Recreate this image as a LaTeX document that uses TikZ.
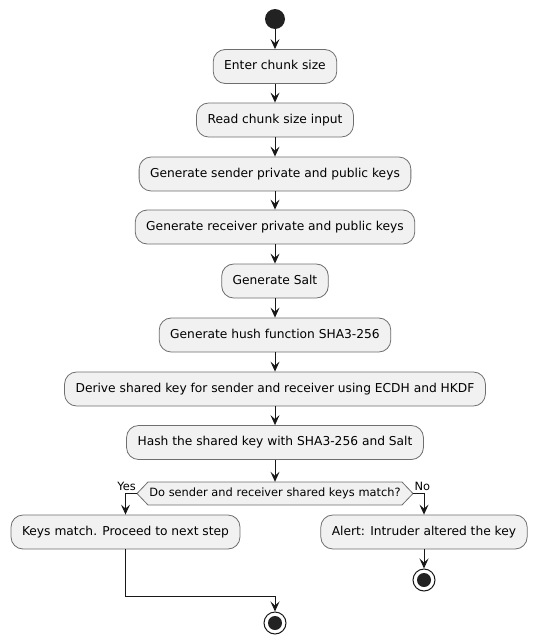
\documentclass[tikz,border=0pt]{standalone}
\usepackage{fontspec}
\setmainfont{DejaVu Sans}
\usetikzlibrary{arrows.meta}
\definecolor{ln}{HTML}{181818}
\definecolor{bd}{HTML}{6E6E6E}
\definecolor{bx}{HTML}{F1F1F1}
\definecolor{dk}{HTML}{222222}
\begin{document}
\begin{tikzpicture}[x=1pt,y=-1pt,
 act/.style={draw=bd,line width=0.8pt,fill=bx,rounded corners=12pt,minimum height=34pt,inner xsep=11pt,text height=9pt,text depth=2.5pt,font=\fontsize{12.25}{14}\selectfont},
 arr/.style={draw=ln,line width=1pt,-{Stealth[length=10pt,width=9pt,inset=4pt]}},
 lbl/.style={font=\fontsize{11.4}{13}\selectfont,inner sep=0pt},
 stopc/.style={circle,draw=ln,line width=1pt,fill=white,minimum size=22pt,inner sep=0pt}]
\useasboundingbox (0,0) rectangle (536,643);
\node[circle,fill=dk,minimum size=20pt,inner sep=0pt] (start) at (275,19) {};
\node[act] (b1) at (275,66.5) {Enter chunk size};
\node[act] (b2) at (275,120) {Read chunk size input};
\node[act] (b3) at (275,174) {Generate sender private and public keys};
\node[act] (b4) at (275,227) {Generate receiver private and public keys};
\node[act] (b5) at (275,281) {Generate Salt};
\node[act] (b6) at (275,335) {Generate hush function SHA3-256};
\node[act] (b7) at (275,389) {Derive shared key for sender and receiver using ECDH and HKDF};
\node[act] (b8) at (275,442.5) {Hash the shared key with SHA3-256 and Salt};
\draw[bd,line width=0.8pt,fill=bx] (137,493.5) -- (148,482) -- (402,482) -- (413,493.5) -- (402,505) -- (148,505) -- cycle;
\node[lbl,minimum height=23pt,text height=8pt,text depth=2.5pt] (dec) at (275,493.5) {Do sender and receiver shared keys match?};
\coordinate (decL) at (137,493.5);
\coordinate (decR) at (413,493.5);
\node[act] (yes) at (125.5,532) {Keys match. Proceed to next step};
\node[act] (no) at (424,532) {Alert: Intruder altered the key};
\node[stopc] (end2) at (424,580) {};
\fill[dk] (end2.center) circle (7);
\node[stopc] (end1) at (275,623) {};
\fill[dk] (end1.center) circle (7);
\draw[arr] (start) -- (b1);
\draw[arr] (b1) -- (b2);
\draw[arr] (b2) -- (b3);
\draw[arr] (b3) -- (b4);
\draw[arr] (b4) -- (b5);
\draw[arr] (b5) -- (b6);
\draw[arr] (b6) -- (b7);
\draw[arr] (b7) -- (b8);
\draw[arr] (b8) -- (dec);
\draw[arr] (decL) -| (yes.north);
\draw[arr] (decR) -| (no.north);
\draw[arr] (yes.south) -- ++(0,47) -| (end1.north);
\draw[arr] (no) -- (end2);
\node[lbl,anchor=base east] at (136,490) {Yes};
\node[lbl,anchor=base west] at (414.5,490) {No};
\end{tikzpicture}
\end{document}
